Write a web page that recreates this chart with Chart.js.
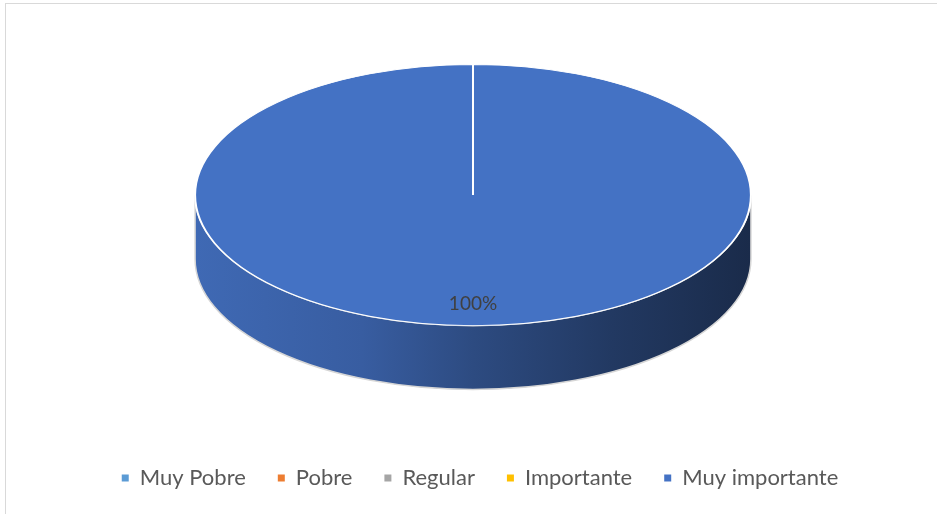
<!DOCTYPE html>
<html lang="es">
<head>
<meta charset="utf-8">
<title>Importancia</title>
<script src="https://cdn.jsdelivr.net/npm/chart.js@4.4.1/dist/chart.umd.min.js"></script>
<style>
  html, body { margin: 0; padding: 0; background: #fff; overflow: hidden; }
  #contenedor { position: relative; width: 937px; height: 514px; }
  #marco { position: absolute; left: 5px; top: 3px; width: 960px; height: 540px; border: 1px solid #d9d9d9; }
  #graficaPastel { position: absolute; left: 0; top: 0; }
</style>
</head>
<body>
<div id="contenedor">
  <div id="marco"></div>
  <canvas id="graficaPastel" width="937" height="514"></canvas>
</div>
<script>
/*global Chart*/

const categorias = ["Muy Pobre", "Pobre", "Regular", "Importante", "Muy importante"];
const valores = [0, 0, 0, 0, 100];
const coloresCategorias = ["#5B9BD5", "#ED7D31", "#A5A5A5", "#FFC000", "#4472C4"];

// Proporciones del efecto 3D, relativas al radio que calcula Chart.js
const ESTIRAMIENTO_X = 1.341;
const INCLINACION_Y = 0.63;
const PROFUNDIDAD = 0.308;
const POSICION_ETIQUETA = 0.83;

// La leyenda va un poco a la derecha del centro del pastel
const DESPLAZAMIENTO_LEYENDA = 7;

// Sombreado del lateral: de izquierda a derecha cada vez más oscuro
const SOMBRA_LATERAL = [[0, 0.92], [0.3, 0.82], [0.5, 0.66], [0.75, 0.5], [1, 0.38]];

function oscurecer(hex, factor) {
    const n = parseInt(hex.slice(1), 16);
    const r = Math.round(((n >> 16) & 255) * factor);
    const g = Math.round(((n >> 8) & 255) * factor);
    const b = Math.round((n & 255) * factor);
    return `rgb(${r}, ${g}, ${b})`;
}

function geometria(chart) {
    const arcos = chart.getDatasetMeta(0).data;
    const base = arcos[0].getProps(["x", "y", "outerRadius"], true);
    const radio = base.outerRadius;
    const profundidad = radio * PROFUNDIDAD;
    return {
        arcos: arcos,
        cx: base.x,
        cy: base.y,
        cyTapa: base.y - profundidad / 2,
        rx: radio * ESTIRAMIENTO_X,
        ry: radio * INCLINACION_Y,
        profundidad: profundidad,
    };
}

// Trozos del arco que caen en la mitad delantera (ángulos 0..PI)
function tramosFrontales(inicio, fin) {
    const tramos = [];
    [-2, 0, 2].forEach(k => {
        const a = Math.max(inicio, k * Math.PI);
        const b = Math.min(fin, k * Math.PI + Math.PI);
        if (b > a) {
            tramos.push([a - k * Math.PI, b - k * Math.PI]);
        }
    });
    return tramos;
}

const pastel3D = {
    id: "pastel3D",
    afterLayout(chart) {
        chart.legend.left += DESPLAZAMIENTO_LEYENDA;
        chart.legend.right += DESPLAZAMIENTO_LEYENDA;
    },
    beforeDatasetsDraw(chart) {
        const ctx = chart.ctx;
        const g = geometria(chart);

        // lateral del cilindro
        g.arcos.forEach((arco, i) => {
            const p = arco.getProps(["startAngle", "endAngle"], true);
            const color = coloresCategorias[i];
            const gradiente = ctx.createLinearGradient(g.cx - g.rx, 0, g.cx + g.rx, 0);
            SOMBRA_LATERAL.forEach(([pos, f]) => gradiente.addColorStop(pos, oscurecer(color, f)));

            tramosFrontales(p.startAngle, p.endAngle).forEach(([a, b]) => {
                ctx.beginPath();
                ctx.ellipse(g.cx, g.cyTapa, g.rx, g.ry, 0, a, b);
                ctx.ellipse(g.cx, g.cyTapa + g.profundidad, g.rx, g.ry, 0, b, a, true);
                ctx.closePath();
                ctx.fillStyle = gradiente;
                ctx.fill();
                ctx.lineWidth = 1.5;
                ctx.strokeStyle = "#d6d6d6";
                ctx.stroke();
            });
        });

        // la tapa la dibuja Chart.js, aplastada en elipse
        ctx.save();
        ctx.translate(g.cx, g.cyTapa);
        ctx.scale(ESTIRAMIENTO_X, INCLINACION_Y);
        ctx.translate(-g.cx, -g.cy);
    },
    afterDatasetsDraw(chart) {
        const ctx = chart.ctx;
        ctx.restore();

        const g = geometria(chart);
        const total = valores.reduce((s, v) => s + v, 0);

        ctx.save();
        ctx.font = "19px Lato";
        ctx.fillStyle = "#404040";
        ctx.textAlign = "center";
        ctx.textBaseline = "middle";
        g.arcos.forEach((arco, i) => {
            if (!valores[i]) {
                return;
            }
            const p = arco.getProps(["startAngle", "endAngle"], true);
            const medio = (p.startAngle + p.endAngle) / 2;
            const x = g.cx + Math.cos(medio) * g.rx * POSICION_ETIQUETA;
            const y = g.cyTapa + Math.sin(medio) * g.ry * POSICION_ETIQUETA;
            ctx.fillText(Math.round(valores[i] / total * 100) + "%", x, y);
        });
        ctx.restore();
    },
};

function crearGrafica() {
    const ctx = document.getElementById("graficaPastel").getContext("2d");

    const data = {
        labels: categorias,
        datasets: [
            {
                data: valores,
                backgroundColor: coloresCategorias,
                borderColor: "#ffffff",
                borderWidth: 1.5,
                hoverOffset: 0,
            },
        ],
    };

    const options = {
        responsive: false,
        animation: false,
        events: [],
        layout: {
            padding: { top: 19, bottom: 15, left: 9, right: 0 },
        },
        plugins: {
            tooltip: { enabled: false },
            legend: {
                position: "bottom",
                labels: {
                    boxWidth: 7,
                    boxHeight: 7,
                    padding: 32,
                    color: "#595959",
                    font: { family: "Lato", size: 22 },
                    generateLabels: chart =>
                        Chart.overrides.pie.plugins.legend.labels.generateLabels(chart)
                            .map(item => ({ ...item, lineWidth: 0, hidden: false })),
                },
            },
        },
    };

    new Chart(ctx, {
        type: "pie",
        data: data,
        options: options,
        plugins: [pastel3D],
    });
}

crearGrafica();
</script>
</body>
</html>
